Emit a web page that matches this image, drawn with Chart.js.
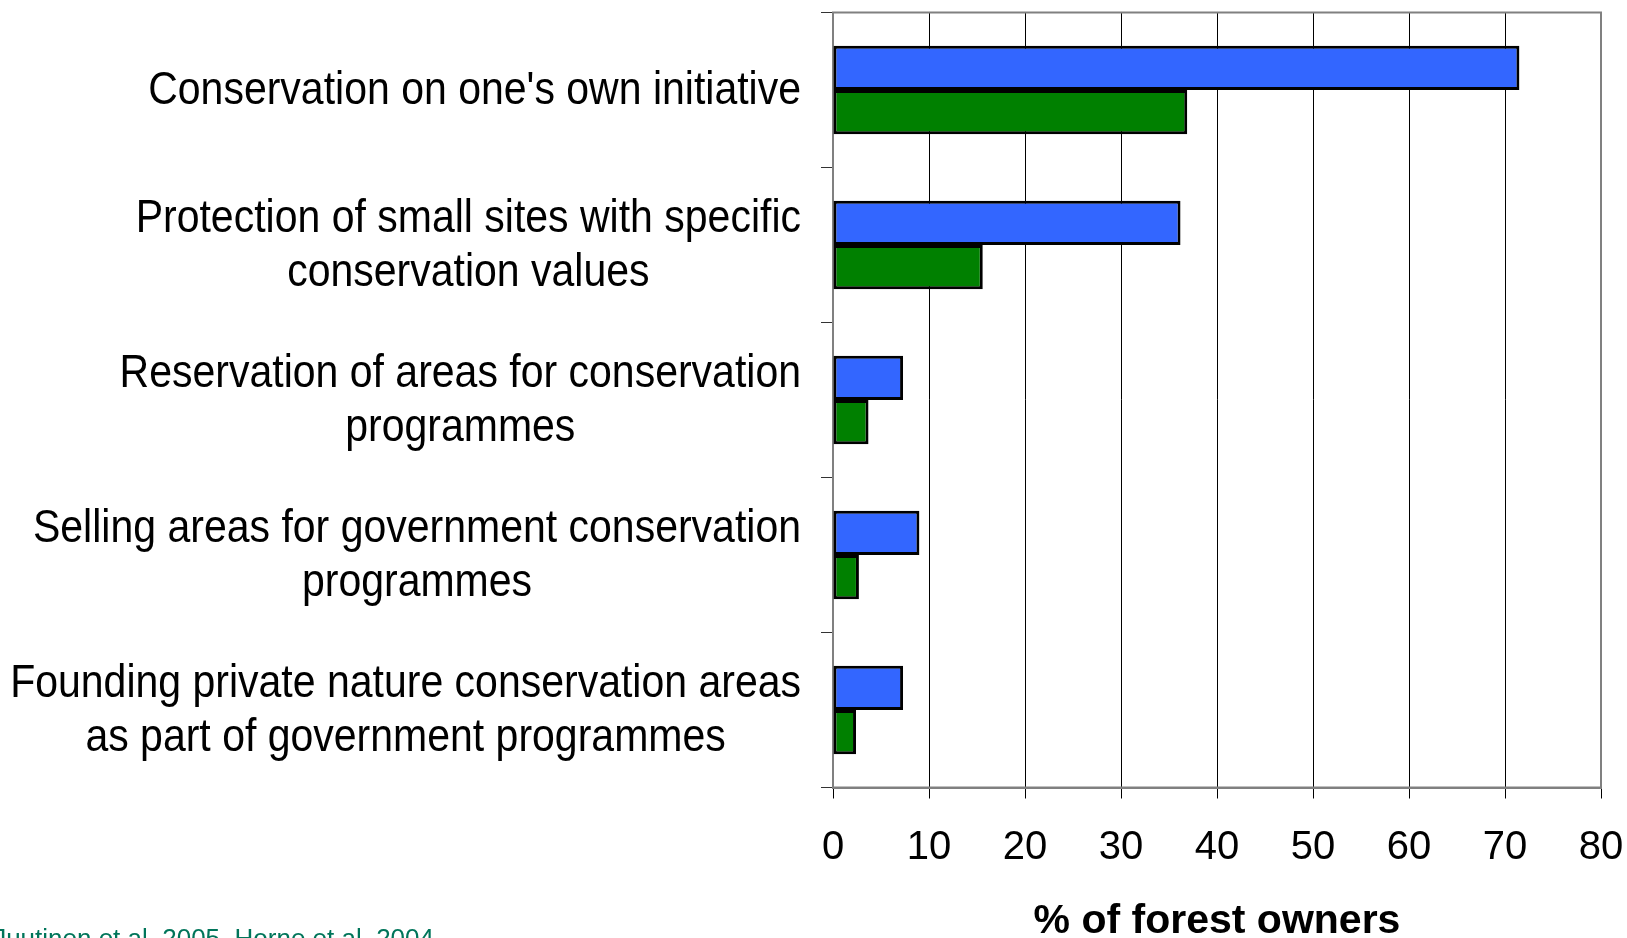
<!DOCTYPE html>
<html>
<head>
<meta charset="utf-8">
<script src="https://cdn.jsdelivr.net/npm/chart.js@4/dist/chart.umd.min.js"></script>
<style>
  html, body { margin: 0; padding: 0; background: #ffffff; overflow: hidden; }
  #wrap { position: relative; width: 1627px; height: 938px; }
</style>
</head>
<body>
<div id="wrap"><canvas id="c" width="1627" height="938"></canvas></div>
<script>
// ---- data ----
const categories = [
  ["Conservation on one's own initiative"],
  ["Protection of small sites with specific", "conservation values"],
  ["Reservation of areas for conservation", "programmes"],
  ["Selling areas for government conservation", "programmes"],
  ["Founding private nature conservation areas", "as part of government programmes"]
];
const seriesBlue = [71.5, 36.2, 7.3, 9.0, 7.3];
const seriesGreen = [36.9, 15.6, 3.7, 2.7, 2.4];
const xTickValues = [0, 10, 20, 30, 40, 50, 60, 70, 80];
const xAxisTitle = "% of forest owners";
const sourceText = "Juutinen et al. 2005, Horne et al. 2004";

const FONT = "'Liberation Sans', Arial, sans-serif";

const framePlugin = {
  id: 'frame',
  beforeDatasetsDraw(chart) {
    const a = chart.chartArea, ctx = chart.ctx;
    ctx.save();
    ctx.strokeStyle = '#808080';
    ctx.lineWidth = 2;
    ctx.strokeRect(a.left, a.top, a.right - a.left, a.bottom - a.top);
    ctx.restore();
  },
  afterDraw(chart) {
    const ctx = chart.ctx;
    const y = chart.scales.y;
    ctx.save();
    ctx.fillStyle = '#000000';
    ctx.font = '41px ' + FONT;
    ctx.textAlign = 'center';
    ctx.textBaseline = 'middle';
    const rightEdge = 801, lineGap = 54, sy = 1.13;
    categories.forEach((lines, i) => {
      const cy = y.getPixelForTick(i) + 1;
      let maxW = 0;
      lines.forEach(l => { maxW = Math.max(maxW, ctx.measureText(l).width); });
      const cx = rightEdge - maxW / 2;
      lines.forEach((l, j) => {
        const ly = cy + (j - (lines.length - 1) / 2) * lineGap;
        ctx.save();
        ctx.translate(cx, ly);
        ctx.scale(1, sy);
        ctx.fillText(l, 0, 0);
        ctx.restore();
      });
    });
    // source note (partially off-canvas, as in the original)
    ctx.fillStyle = '#00755a';
    ctx.font = '26px ' + FONT;
    ctx.textAlign = 'right';
    ctx.textBaseline = 'alphabetic';
    ctx.fillText(sourceText, 434, 947);
    ctx.restore();
  }
};

new Chart(document.getElementById('c'), {
  type: 'bar',
  data: {
    labels: categories,
    datasets: [
      { label: 'Series 1', data: seriesBlue, backgroundColor: '#3366FF', borderColor: '#000000', borderWidth: 3, borderSkipped: false },
      { label: 'Series 2', data: seriesGreen, backgroundColor: '#008000', borderColor: '#000000', borderWidth: 3, borderSkipped: false }
    ]
  },
  options: {
    indexAxis: 'y',
    responsive: false,
    animation: false,
    devicePixelRatio: 1,
    layout: { autoPadding: false, padding: { top: 12.5, right: 26, bottom: 0, left: 0 } },
    datasets: { bar: { categoryPercentage: 0.57, barPercentage: 1.0 } },
    plugins: { legend: { display: false }, tooltip: { enabled: false }, title: { display: false } },
    scales: {
      x: {
        type: 'linear',
        position: 'bottom',
        min: 0, max: 80,
        afterBuildTicks(scale) { scale.ticks = xTickValues.map(v => ({ value: v })); },
        afterFit(scale) { scale.height = 150.5; scale.paddingLeft = 0; scale.paddingRight = 0; },
        grid: { color: '#000000', lineWidth: 1, tickLength: 11, tickColor: '#000000', drawOnChartArea: true },
        border: { display: true, color: '#808080', width: 2 },
        ticks: { color: '#000000', font: { family: FONT, size: 40 }, padding: 25, maxRotation: 0, autoSkip: false },
        title: { display: true, text: xAxisTitle, color: '#000000', font: { family: FONT, size: 41, weight: 'bold', lineHeight: 0.8 }, padding: 0 }
      },
      y: {
        type: 'category',
        position: 'left',
        afterFit(scale) { scale.width = 833; },
        grid: { offset: true, drawOnChartArea: false, tickLength: 12, tickColor: '#333333', color: '#333333' },
        border: { display: true, color: '#808080', width: 2 },
        ticks: { display: false }
      }
    }
  },
  plugins: [framePlugin]
});
</script>
</body>
</html>
